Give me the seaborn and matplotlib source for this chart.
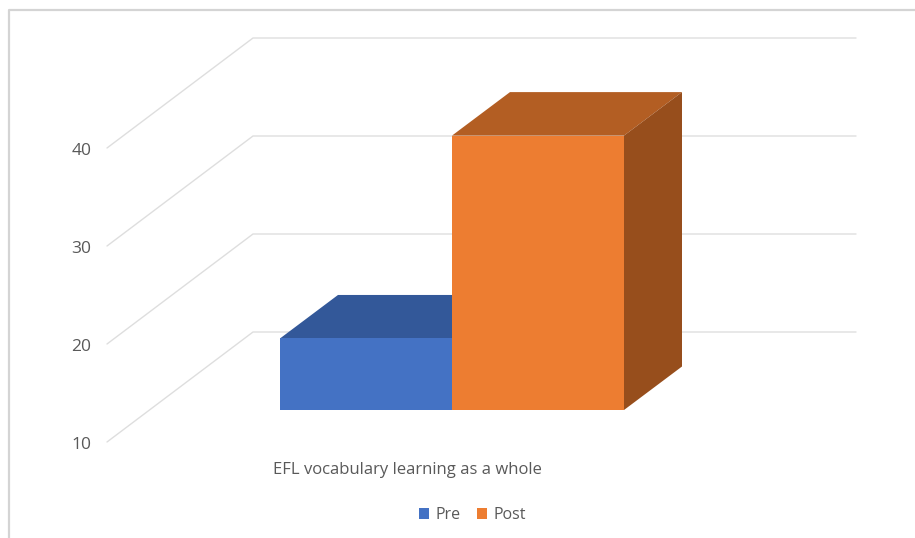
import matplotlib
matplotlib.use("Agg")
import matplotlib.pyplot as plt
from matplotlib.lines import Line2D
import pandas as pd
import seaborn as sns

categories = ["EFL vocabulary learning as a whole"]
series = ["Pre", "Post"]
values = [17.3, 38.0]
y_ticks = [10, 20, 30, 40]

W, H = 915, 538
PX_PER_UNIT_Y = 9.8
PX_PER_UNIT_X = 430.0
BASE = 10
FONT = "Open Sans"
TEXT = "#595959"
GRID = "#DEDEDE"
front = {"Pre": "#4472C4", "Post": "#ED7D31"}
top = {"Pre": "#335899", "Post": "#B35E23"}
side = {"Pre": "#2B4A80", "Post": "#974E1C"}


def dx(px):
    return (px - 452) / PX_PER_UNIT_X


def dy(px):
    return BASE + (410 - px) / PX_PER_UNIT_Y


sns.set_theme(style="white")
plt.rcParams["font.family"] = [FONT, "DejaVu Sans"]
fig = plt.figure(figsize=(W / 100, H / 100), dpi=100)
ax = fig.add_axes([0, 0, 1, 1])

df = pd.DataFrame({"category": categories * 2, "series": series, "value": values})
sns.barplot(data=df, x="category", y="value", hue="series", hue_order=series,
            palette=front, width=0.8, gap=0, saturation=1, ax=ax, errorbar=None,
            linewidth=0)

ax.set_xlim(dx(0), dx(W))
ax.set_ylim(dy(H), dy(0))
ax.set_xticks([])
ax.set_yticks([])
ax.set_xlabel("")
ax.set_ylabel("")
for s in ax.spines.values():
    s.set_visible(False)
ax.patch.set_alpha(0)

# 3-D projection offsets (in data units)
depth_x = 58 / PX_PER_UNIT_X
depth_y = 43.5 / PX_PER_UNIT_Y
back_up = (410 - 332) / PX_PER_UNIT_Y
front_down = 32 / PX_PER_UNIT_Y

# gridlines: floor-side diagonal plus back-wall horizontal
for t in y_ticks:
    ax.plot([dx(107), dx(253), dx(856)],
            [t - front_down, t + back_up, t + back_up],
            color=GRID, lw=1.0, zorder=1, solid_joinstyle="miter")
    ax.text(dx(91.5), t - front_down - 0.27, str(t), ha="right", va="center",
            fontsize=12.5, color=TEXT, family=FONT)

# bars: front faces from seaborn, top and side faces derived from them
for i, (patch, name) in enumerate(zip(ax.patches, series)):
    v = patch.get_height()
    patch.set_y(BASE)
    patch.set_height(v - BASE)
    patch.set_zorder(4 + 3 * i)
    x0, x1 = patch.get_x(), patch.get_x() + patch.get_width()
    ax.fill([x0, x0 + depth_x, x1 + depth_x, x1],
            [v, v + depth_y, v + depth_y, v],
            color=top[name], lw=0, zorder=2 + 3 * i)
    ax.fill([x1, x1 + depth_x, x1 + depth_x, x1],
            [v, v + depth_y, BASE + depth_y, BASE],
            color=side[name], lw=0, zorder=3 + 3 * i)

ax.text(dx(407), dy(469.5), categories[0], ha="center", va="center",
        fontsize=12, color=TEXT, family=FONT)

handles, labels = ax.get_legend_handles_labels()
ax.legend(handles, labels, ncol=2, frameon=False, loc="center",
          bbox_to_anchor=(472.5 / W, 1 - 515 / H), bbox_transform=fig.transFigure,
          handlelength=0.62, handleheight=0.62, handletextpad=0.42,
          columnspacing=1.0, prop={"family": FONT, "size": 11.5},
          labelcolor=TEXT, borderpad=0)

# outer chart frame (top and left edges visible)
fig.add_artist(Line2D([9 / W, 9 / W, 1], [0, 1 - 10 / H, 1 - 10 / H],
                      color="#D4D4D4", lw=1.6, transform=fig.transFigure))

fig.savefig("out.png", dpi=100, facecolor="white")
